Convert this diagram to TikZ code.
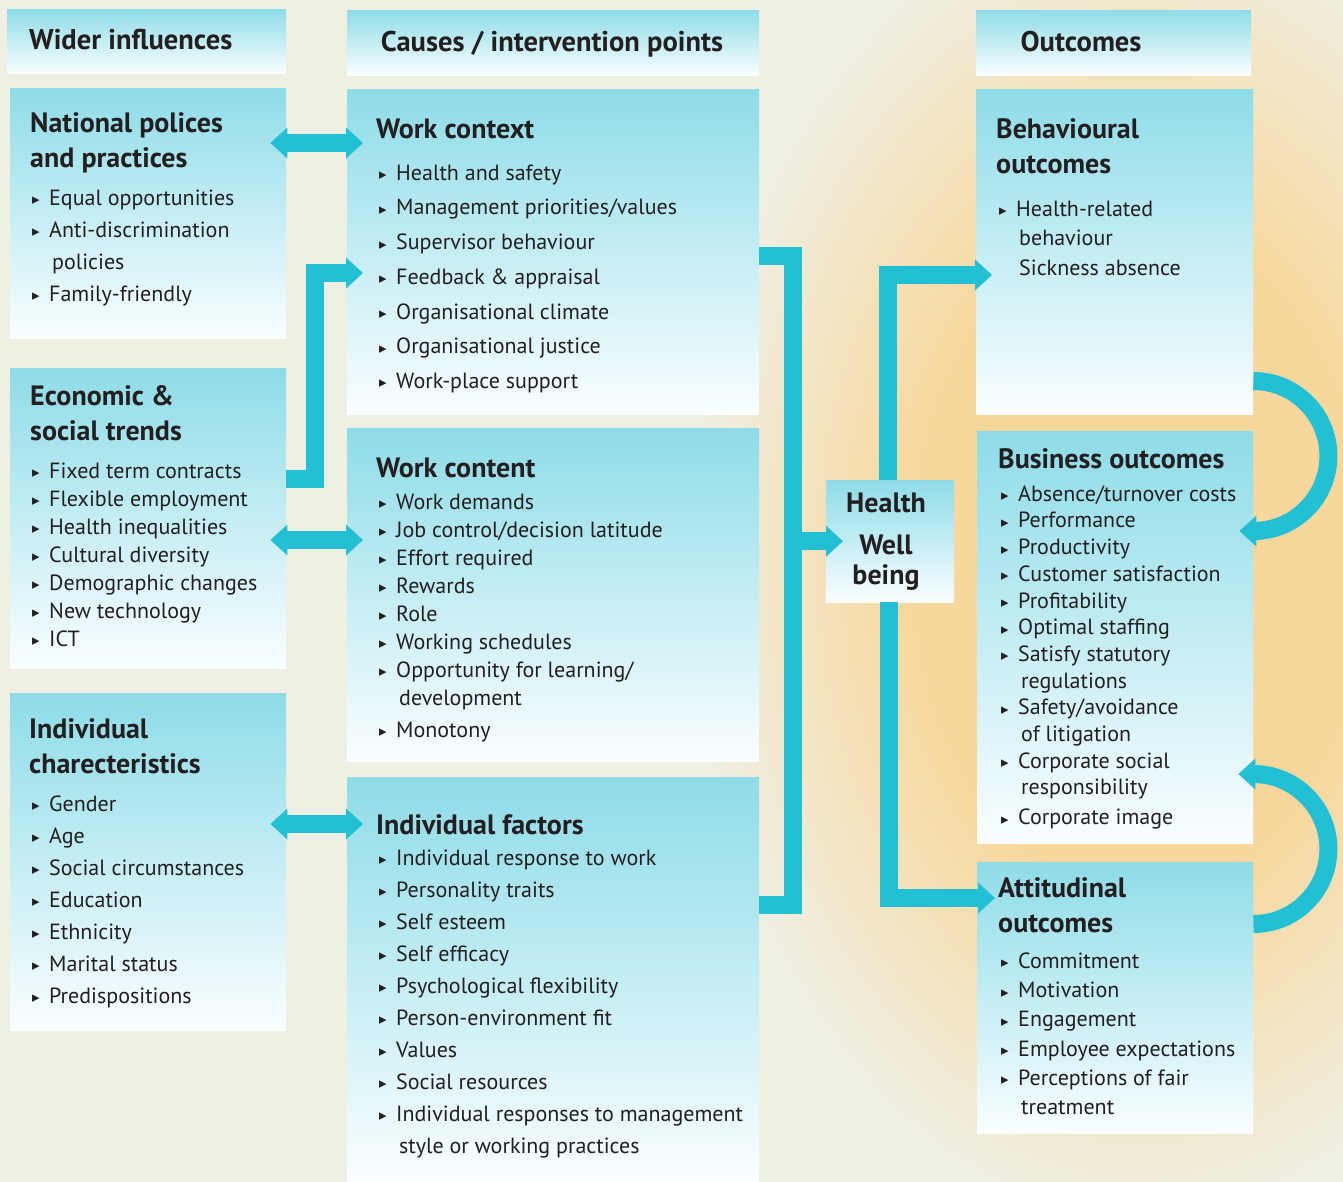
\documentclass[tikz,border=0pt]{standalone}
\usepackage{fontspec}
\setmainfont{PT Sans}
\newfontfamily\symfont{DejaVu Sans}
\usetikzlibrary{arrows.meta,positioning}
\definecolor{bgbeige}{HTML}{F0EFE3}
\definecolor{glow}{HTML}{F7D79B}
\definecolor{boxtop}{HTML}{8EDCE8}
\definecolor{boxbot}{HTML}{FAFEFF}
\definecolor{linkc}{HTML}{22BFD5}
\definecolor{ink}{HTML}{231F20}
\newcommand\fst{\rule{0pt}{1em}}
\newcommand\bl{\makebox[17pt][l]{\raisebox{0.5pt}{\symfont\fontsize{15}{15}\selectfont ▸}}}
\newcommand\cnt{\hspace{20pt}}
\tikzset{
  box/.style={anchor=north west, inner sep=0pt, top color=boxtop, bottom color=boxbot, draw=none},
  ttl/.style={anchor=north west, inner sep=0pt, text=ink, align=left, font=\fontsize{28}{35}\selectfont\bfseries},
  itm/.style={anchor=north west, inner sep=0pt, text=ink, align=left, font=\fontsize{22}{#1}\selectfont},
  itm/.default=32,
  hdr/.style={inner sep=0pt, text=ink, font=\fontsize{28.5}{32}\selectfont\bfseries},
  link/.style={draw=linkc, line width=18pt, line join=miter},
  headr/.style={-{Triangle[length=17pt,width=31pt,line width=0pt]}},
  heads2/.style={{Triangle[length=17pt,width=31pt,line width=0pt]}-{Triangle[length=17pt,width=31pt,line width=0pt]}}
}
\begin{document}
\begin{tikzpicture}[x=1pt, y=-1pt]
  % background with glow
  \fill[bgbeige] (0,0) rectangle (1343,1182);
  \begin{scope}
    \clip (0,0) rectangle (1343,1182);
    \foreach \k in {0,...,40} {
      \pgfmathsetmacro\s{1-0.5*\k/40}
      \pgfmathsetmacro\p{100*\k/40}
      \fill[glow!\p!bgbeige] (1140,560) ellipse ({450*\s} and {660*\s});
    }
  \end{scope}
  \useasboundingbox (0,0) rectangle (1343,1182);

  % column headers
  \node[box, minimum width=279pt, minimum height=64pt] (hwid) at (7,9) {};
  \node[box, minimum width=412pt, minimum height=65pt] (hcau) at (347,10) {};
  \node[box, minimum width=275pt, minimum height=65pt] (hout) at (976,10) {};
  \node[hdr, anchor=base west] (thwid) at (29,50) {Wider influences};
  \node[hdr, anchor=base] (thcau) at (552,52) {Causes / intervention points};
  \node[hdr, anchor=base] (thout) at (1081,52) {Outcomes};

  % boxes
  \node[box, minimum width=276pt, minimum height=250pt] (natl) at (10,88) {};
  \node[box, minimum width=276pt, minimum height=300pt] (econ) at (10,368) {};
  \node[box, minimum width=276pt, minimum height=337pt] (indc) at (10,693) {};
  \node[box, minimum width=412pt, minimum height=325pt] (wctx) at (347,89) {};
  \node[box, minimum width=412pt, minimum height=333pt] (wcnt) at (347,428) {};
  \node[box, minimum width=412pt, minimum height=405pt] (indf) at (347,777) {};
  \node[box, minimum width=128pt, minimum height=122pt] (hw) at (826,480) {};
  \node[box, minimum width=277pt, minimum height=325pt] (behv) at (976,89) {};
  \node[box, minimum width=276pt, minimum height=412pt] (busi) at (977,431) {};
  \node[box, minimum width=276pt, minimum height=271pt] (attd) at (977,862) {};

  % wider influences
  \node[ttl] (tnatl) at (30,104) {\fst National polices\\and practices};
  \node[itm] (lnatl) at (32,183) {\fst\bl Equal opportunities\\\bl Anti-discrimination\\\cnt policies\\\bl Family-friendly};
  \node[ttl] (tecon) at (30,377) {\fst Economic \&\\social trends};
  \node[itm=28] (lecon) at (32,456) {\fst\bl Fixed term contracts\\\bl Flexible employment\\\bl Health inequalities\\\bl Cultural diversity\\\bl Demographic changes\\\bl New technology\\\bl ICT};
  \node[ttl] (tindc) at (29,710) {\fst Individual\\charecteristics};
  \node[itm] (lindc) at (32,789) {\fst\bl Gender\\\bl Age\\\bl Social circumstances\\\bl Education\\\bl Ethnicity\\\bl Marital status\\\bl Predispositions};

  % causes
  \node[ttl] (twctx) at (376,110) {\fst Work context};
  \node[itm=34.7] (lwctx) at (379,158) {\fst\bl Health and safety\\\bl Management priorities/values\\\bl Supervisor behaviour\\\bl Feedback \& appraisal\\\bl Organisational climate\\\bl Organisational justice\\\bl Work-place support};
  \node[ttl] (twcnt) at (376,449) {\fst Work content};
  \node[itm=28] (lwcnt) at (379,487) {\fst\bl Work demands\\\bl Job control/decision latitude\\\bl Effort required\\\bl Rewards\\\bl Role\\\bl Working schedules\\\bl Opportunity for learning/\\\cnt development\\[4pt]\bl Monotony};
  \node[ttl] (tindf) at (376,806) {\fst Individual factors};
  \node[itm] (lindf) at (379,843) {\fst\bl Individual response to work\\\bl Personality traits\\\bl Self esteem\\\bl Self efficacy\\\bl Psychological flexibility\\\bl Person-environment fit\\\bl Values\\\bl Social resources\\\bl Individual responses to management\\\cnt style or working practices};

  % health
  \node[ttl, anchor=north, align=center, font=\fontsize{28}{30}\selectfont\bfseries] (thw) at (886,484) {\fst Health\\[12pt]Well\\being};

  % outcomes
  \node[ttl] (tbehv) at (996,110) {\fst Behavioural\\outcomes};
  \node[itm=29.5] (lbehv) at (999,194) {\fst\bl Health-related\\\cnt behaviour\\\cnt Sickness absence};
  \node[ttl] (tbusi) at (998,440) {\fst Business outcomes};
  \node[itm=26.7] (lbusi) at (1001,479) {\fst\bl Absence/turnover costs\\\bl Performance\\\bl Productivity\\\bl Customer satisfaction\\\bl Profitability\\\bl Optimal staffing\\\bl Satisfy statutory\\\cnt regulations\\\bl Safety/avoidance\\\cnt of litigation\\\bl Corporate social\\\cnt responsibility\\[3pt]\bl Corporate image};
  \node[ttl] (tattd) at (998,869) {\fst Attitudinal\\outcomes};
  \node[itm=29.3] (lattd) at (1001,946) {\fst\bl Commitment\\\bl Motivation\\\bl Engagement\\\bl Employee expectations\\\bl Perceptions of fair\\\cnt treatment};

  % connectors
  \draw[link,heads2] ([shift={(-16,55)}]natl.north east) -- ([shift={(16,54)}]wctx.north west);
  \draw[link,heads2] ([shift={(-16,172)}]econ.north east) -- ([shift={(16,112)}]wcnt.north west);
  \draw[link,heads2] ([shift={(-16,131)}]indc.north east) -- ([shift={(16,47)}]indf.north west);
  \draw[link,headr] ([shift={(0,111)}]econ.north east) -- ++(29,0) |- ([shift={(16,184)}]wctx.north west);
  \draw[link] ([shift={(0,167)}]wctx.north east) -- ++(34,0) |- ([shift={(0,128)}]indf.north east);
  \draw[link,headr] ([xshift=-33pt]hw.west) -- ([xshift=17pt]hw.west);
  \draw[link,headr] ([xshift=-2pt]hw.north) |- ([shift={(16,186)}]behv.north west);
  \draw[link,headr] ([xshift=-1pt]hw.south) |- ([shift={(18,36)}]attd.north west);
  \draw[link,headr] ([shift={(0,292)}]behv.north east) arc[start angle=-90, end angle=90, radius=75] -- ++(-14,0);
  \draw[link,headr] ([shift={(0,62)}]attd.north east) arc[start angle=90, end angle=-90, radius=75] -- ++(-15,0);
\end{tikzpicture}
\end{document}
